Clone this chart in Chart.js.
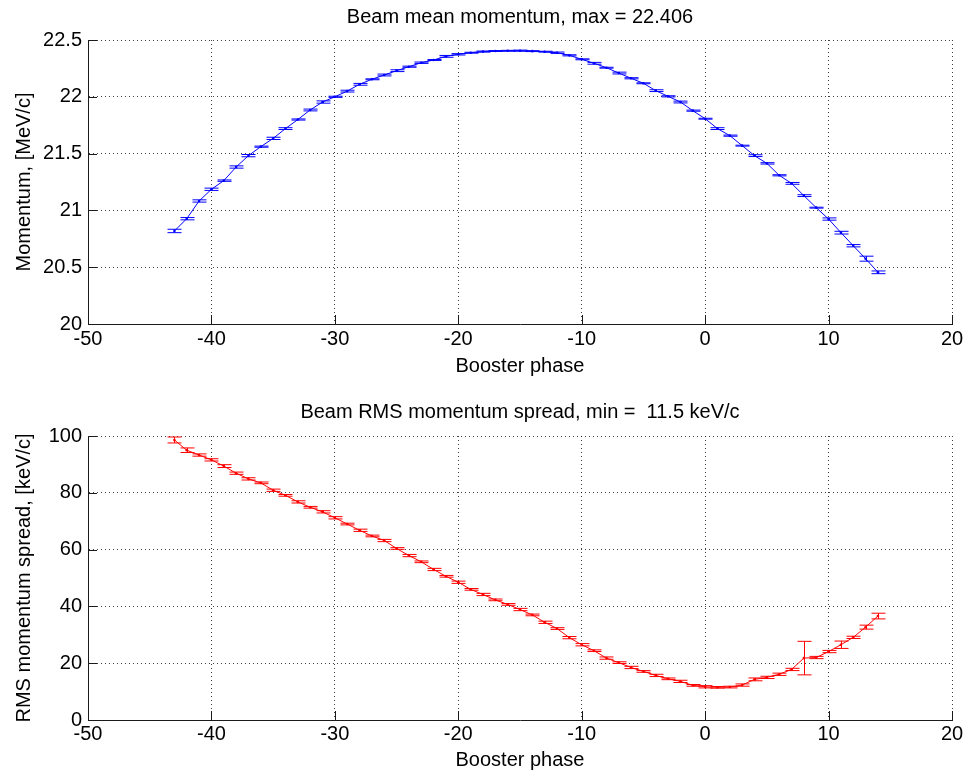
<!DOCTYPE html>
<html>
<head>
<meta charset="utf-8">
<script src="https://cdn.jsdelivr.net/npm/chart.js@4/dist/chart.umd.min.js"></script>
<style>
  html, body { margin: 0; padding: 0; background: #fff; }
  #wrap { position: relative; width: 974px; height: 774px; overflow: hidden; }
  canvas { position: absolute; left: 0; }
</style>
</head>
<body>
<div id="wrap">
  <canvas id="c1" width="974" height="387" style="top:0"></canvas>
  <canvas id="c2" width="974" height="387" style="top:387px"></canvas>
</div>
<script>
// ---------- data ----------
const phase = [-43,-42,-41,-40,-39,-38,-37,-36,-35,-34,-33,-32,-31,-30,-29,-28,-27,-26,-25,-24,-23,-22,-21,-20,-19,-18,-17,-16,-15,-14,-13,-12,-11,-10,-9,-8,-7,-6,-5,-4,-3,-2,-1,0,1,2,3,4,5,6,7,8,9,10,11,12,13,14];

const meanMomentum = [20.819,20.927,21.083,21.186,21.262,21.382,21.482,21.561,21.634,21.720,21.800,21.884,21.954,22.000,22.050,22.110,22.154,22.192,22.230,22.265,22.300,22.324,22.356,22.374,22.388,22.398,22.403,22.405,22.406,22.402,22.397,22.388,22.365,22.330,22.295,22.256,22.209,22.163,22.119,22.054,22.004,21.954,21.878,21.807,21.720,21.658,21.570,21.482,21.414,21.309,21.238,21.130,21.024,20.924,20.804,20.689,20.575,20.455];

const meanMomentumErr = [0.015,0.010,0.010,0.010,0.006,0.010,0.010,0.005,0.010,0.008,0.005,0.008,0.010,0.005,0.008,0.008,0.004,0.008,0.008,0.005,0.006,0.004,0.008,0.006,0.004,0.005,0.004,0.004,0.005,0.004,0.004,0.006,0.005,0.004,0.008,0.004,0.008,0.005,0.004,0.008,0.005,0.008,0.005,0.004,0.008,0.005,0.004,0.008,0.006,0.005,0.008,0.008,0.004,0.010,0.012,0.010,0.022,0.012];

const rmsSpread = [98.6,95.0,93.3,91.6,89.4,86.9,84.9,83.5,80.9,79.1,76.8,74.9,73.3,71.2,69.0,66.8,64.8,63.2,60.4,57.9,55.7,53.0,50.6,48.5,46.0,44.2,42.3,40.7,38.9,37.0,34.4,32.2,29.0,26.5,24.4,21.8,20.2,18.5,17.1,15.7,14.5,13.6,12.2,11.7,11.5,11.6,12.3,14.3,15.0,16.1,17.8,21.8,22.0,24.1,26.5,29.1,32.7,36.6];

const rmsSpreadErr = [1.05,0.8,0.4,0.4,0.5,0.4,0.4,0.3,0.4,0.3,0.4,0.3,0.4,0.4,0.3,0.4,0.3,0.4,0.3,0.4,0.3,0.4,0.3,0.4,0.3,0.4,0.3,0.3,0.4,0.3,0.4,0.3,0.4,0.4,0.3,0.4,0.3,0.4,0.3,0.4,0.3,0.4,0.3,0.4,0.3,0.3,0.4,0.5,0.4,0.4,0.4,5.9,0.4,0.4,1.3,0.4,0.7,1.0];

const xTicks = [-50,-40,-30,-20,-10,0,10,20];
const topYTicks = [20,20.5,21,21.5,22,22.5];
const bottomYTicks = [0,20,40,60,80,100];

const topTitle = 'Beam mean momentum, max = 22.406';
const bottomTitle = 'Beam RMS momentum spread, min =  11.5 keV/c';
const xLabel = 'Booster phase';
const topYLabel = 'Momentum, [MeV/c]';
const bottomYLabel = 'RMS momentum spread, [keV/c]';

// ---------- plugins ----------
const errorBarPlugin = {
  id: 'errorBars',
  afterDatasetsDraw(chart, args, opts) {
    const {ctx} = chart;
    const xs = chart.scales.x, ys = chart.scales.y;
    const vals = opts.values, errs = opts.errors, xv = opts.xs;
    ctx.save();
    ctx.strokeStyle = opts.color;
    ctx.lineWidth = 1;
    const cap = 7;
    for (let i = 0; i < xv.length; i++) {
      const px = Math.round(xs.getPixelForValue(xv[i])) + 0.5;
      const yl = ys.getPixelForValue(vals[i] - errs[i]);
      const yh = ys.getPixelForValue(vals[i] + errs[i]);
      ctx.beginPath();
      ctx.moveTo(px, yl); ctx.lineTo(px, yh);
      ctx.moveTo(px - cap, yl); ctx.lineTo(px + cap, yl);
      ctx.moveTo(px - cap, yh); ctx.lineTo(px + cap, yh);
      ctx.stroke();
    }
    ctx.restore();
  }
};

const inwardTicksPlugin = {
  id: 'inwardTicks',
  afterDraw(chart) {
    const {ctx, chartArea} = chart;
    const xs = chart.scales.x, ys = chart.scales.y;
    ctx.save();
    ctx.strokeStyle = '#1a1a1a';
    ctx.lineWidth = 1;
    ctx.beginPath();
    xs.ticks.forEach(t => {
      const px = Math.round(xs.getPixelForValue(t.value)) + 0.5;
      ctx.moveTo(px, chartArea.bottom);
      ctx.lineTo(px, chartArea.bottom - 9);
    });
    ys.ticks.forEach(t => {
      const py = Math.round(ys.getPixelForValue(t.value)) + 0.5;
      ctx.moveTo(chartArea.left, py);
      ctx.lineTo(chartArea.left + 9, py);
    });
    ctx.stroke();
    ctx.restore();
  }
};

Chart.defaults.font.family = '"Liberation Sans", Arial, Helvetica, sans-serif';
Chart.defaults.color = '#000';

function makeChart(id, cfg) {
  const font = {size: 20, weight: 'normal', lineHeight: 1.2};
  return new Chart(document.getElementById(id), {
    type: 'scatter',
    data: {
      datasets: [{
        data: phase.map((x, i) => ({x: x, y: cfg.values[i]})),
        showLine: true,
        borderColor: cfg.color,
        backgroundColor: cfg.color,
        borderWidth: 1,
        pointRadius: 1.3,
        pointHoverRadius: 1.3,
        pointBorderWidth: 0,
        tension: 0
      }]
    },
    options: {
      responsive: false,
      animation: false,
      devicePixelRatio: 1,
      layout: {padding: {left: 0, right: 22, top: 0, bottom: 0}},
      plugins: {
        legend: {display: false},
        tooltip: {enabled: false},
        title: {
          display: true,
          fullSize: false,
          align: 'center',
          text: cfg.title,
          color: '#000',
          font: font,
          padding: cfg.titlePadding
        },
        errorBars: {xs: phase, values: cfg.values, errors: cfg.errors, color: cfg.color}
      },
      scales: {
        x: {
          type: 'linear',
          min: -50, max: 20,
          afterBuildTicks: s => { s.ticks = xTicks.map(v => ({value: v})); },
          ticks: {font: font, color: '#000', padding: cfg.xTickPad, maxRotation: 0, autoSkip: false,
                  callback: v => String(Number(v))},
          grid: {color: 'rgba(0,0,0,0.75)', lineWidth: 1, drawTicks: false},
          border: {display: true, color: '#1a1a1a', width: 1, dash: [1, 3]},
          title: {display: true, text: xLabel, font: font, color: '#000', padding: {top: 0, bottom: cfg.xTitlePad}},
          afterFit: s => { s.height = cfg.xHeight; }
        },
        y: {
          type: 'linear',
          min: cfg.yMin, max: cfg.yMax,
          afterBuildTicks: s => { s.ticks = cfg.yTicks.map(v => ({value: v})); },
          ticks: {font: font, color: '#000', padding: 6, autoSkip: false,
                  callback: v => String(Number(v))},
          grid: {color: 'rgba(0,0,0,0.75)', lineWidth: 1, drawTicks: false},
          border: {display: true, color: '#1a1a1a', width: 1, dash: [1, 3]},
          title: {display: true, text: cfg.yLabel, font: font, color: '#000', padding: {top: 12, bottom: 0}},
          afterFit: s => { s.width = 88; }
        }
      }
    },
    plugins: [errorBarPlugin, inwardTicksPlugin]
  });
}

makeChart('c1', {
  values: meanMomentum, errors: meanMomentumErr, color: '#0000ff',
  title: topTitle, titlePadding: {top: 5, bottom: 11},
  yMin: 20, yMax: 22.5, yTicks: topYTicks, yLabel: topYLabel,
  xHeight: 63, xTickPad: 3, xTitlePad: 9
});

makeChart('c2', {
  values: rmsSpread, errors: rmsSpreadErr, color: '#ff0000',
  title: bottomTitle, titlePadding: {top: 13, bottom: 12},
  yMin: 0, yMax: 100, yTicks: bottomYTicks, yLabel: bottomYLabel,
  xHeight: 54, xTickPad: 2, xTitlePad: 2
});
</script>
</body>
</html>
